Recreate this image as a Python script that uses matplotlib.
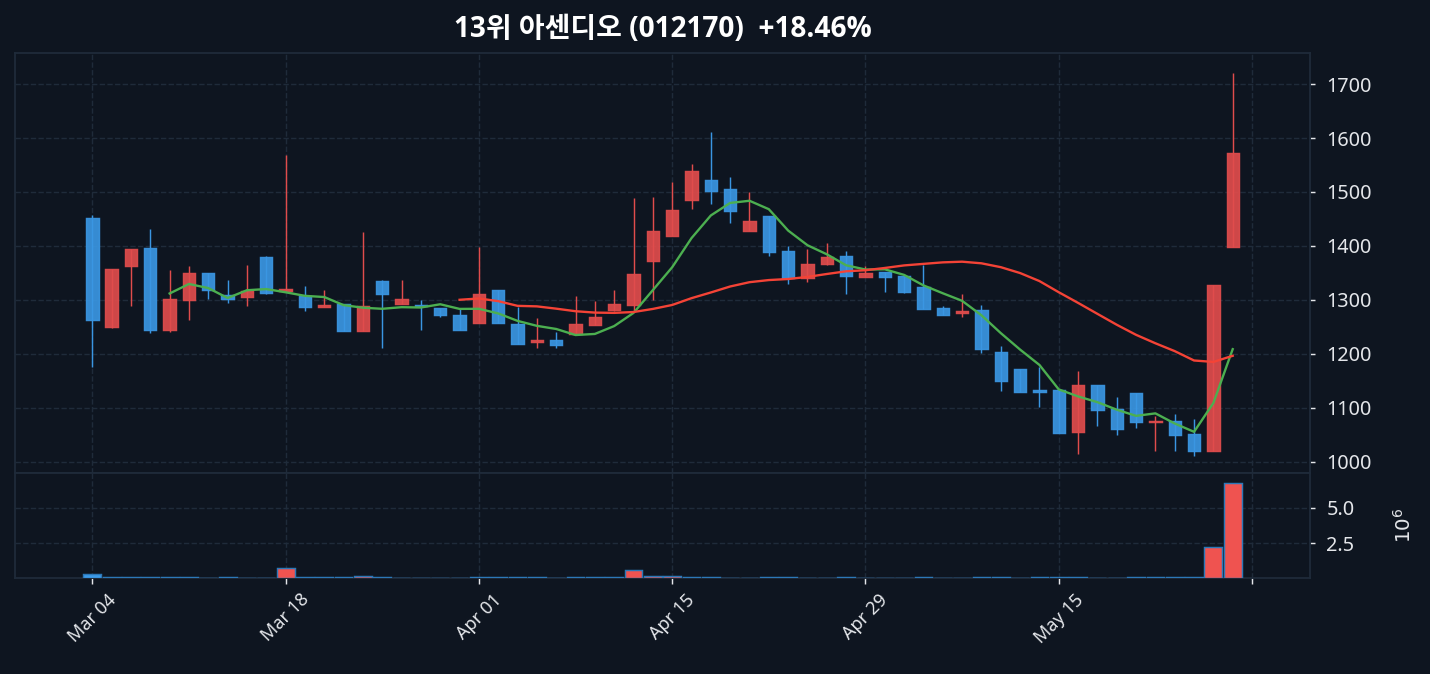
import numpy as np
import pandas as pd
import matplotlib
matplotlib.use("Agg")
import matplotlib.pyplot as plt
from matplotlib.patches import Rectangle
from matplotlib.ticker import MultipleLocator, FuncFormatter, FixedLocator

plt.rcParams['font.family'] = ['Noto Sans', 'Noto Sans CJK KR', 'DejaVu Sans']

title = "13위 아센디오 (012170)  +18.46%"

# trading days (KRX closed May 5-6)
holidays = ["2025-05-05", "2025-05-06"]
dates = pd.bdate_range("2025-03-04", "2025-05-28")
dates = dates[~dates.isin(pd.to_datetime(holidays))]

opens = [1452, 1250, 1362, 1396, 1245, 1299, 1350, 1309, 1305, 1380,
         1316, 1307, 1287, 1292, 1242, 1335, 1293, 1290, 1284, 1271,
         1258, 1318, 1255, 1221, 1226, 1237, 1253, 1281, 1291, 1372,
         1418, 1485, 1523, 1505, 1428, 1456, 1391, 1340, 1367, 1381,
         1343, 1351, 1345, 1324, 1284, 1276, 1281, 1203, 1171, 1132,
         1132, 1055, 1143, 1098, 1127, 1074, 1076, 1052, 1020, 1398]
highs = [1458, 1358, 1395, 1432, 1356, 1363, 1350, 1337, 1365, 1381,
         1568, 1326, 1319, 1292, 1425, 1336, 1337, 1300, 1284, 1283,
         1397, 1318, 1287, 1266, 1240, 1307, 1298, 1319, 1488, 1490,
         1518, 1552, 1611, 1527, 1500, 1456, 1399, 1395, 1405, 1390,
         1363, 1352, 1345, 1364, 1289, 1311, 1291, 1214, 1171, 1176,
         1132, 1169, 1143, 1120, 1127, 1085, 1089, 1080, 1328, 1720]
lows = [1175, 1247, 1289, 1239, 1240, 1263, 1302, 1294, 1288, 1311,
        1315, 1280, 1286, 1242, 1242, 1211, 1293, 1245, 1269, 1245,
        1258, 1258, 1219, 1210, 1211, 1237, 1253, 1279, 1280, 1300,
        1418, 1469, 1478, 1443, 1428, 1381, 1330, 1333, 1364, 1310,
        1342, 1314, 1312, 1283, 1271, 1269, 1202, 1131, 1130, 1102,
        1053, 1015, 1067, 1050, 1062, 1019, 1019, 1011, 1019, 1398]
closes = [1262, 1357, 1394, 1245, 1301, 1350, 1319, 1302, 1317, 1312,
          1320, 1286, 1291, 1242, 1288, 1310, 1301, 1288, 1272, 1245,
          1311, 1258, 1219, 1226, 1216, 1255, 1268, 1292, 1348, 1427,
          1467, 1538, 1502, 1464, 1447, 1389, 1340, 1366, 1380, 1345,
          1350, 1342, 1314, 1283, 1272, 1280, 1208, 1149, 1130, 1130,
          1053, 1143, 1096, 1060, 1073, 1076, 1049, 1019, 1327, 1572]
volumes = [0.26, 0.06, 0.05, 0.06, 0.05, 0.06, 0.02, 0.05, 0.02, 0.02,
           0.69, 0.06, 0.05, 0.05, 0.17, 0.06, 0.02, 0.02, 0.03, 0.02,
           0.05, 0.06, 0.05, 0.05, 0.02, 0.05, 0.05, 0.06, 0.55, 0.13,
           0.13, 0.09, 0.08, 0.02, 0.03, 0.06, 0.05, 0.02, 0.02, 0.05,
           0.02, 0.02, 0.03, 0.05, 0.02, 0.02, 0.05, 0.06, 0.03, 0.05,
           0.09, 0.09, 0.03, 0.02, 0.05, 0.05, 0.05, 0.08, 2.24, 6.81]

df = pd.DataFrame({"Open": opens, "High": highs, "Low": lows,
                   "Close": closes, "Volume": np.array(volumes) * 1e6},
                  index=dates)
df["MA5"] = df["Close"].rolling(5).mean()
df["MA20"] = df["Close"].rolling(20).mean()

bg = "#0e1520"
grid_c = "#1f2b3a"
up_c = "#e04c4c"
down_c = "#3a96e2"
txt = "#e4e6ea"

fig = plt.figure(figsize=(11, 5.185), dpi=130, facecolor=bg)
ax = fig.add_axes([0.0105, 0.2982, 0.9056, 0.6232], facecolor=bg)
axv = fig.add_axes([0.0105, 0.1424, 0.9056, 0.1558], facecolor=bg, sharex=ax)

x = np.arange(len(df))
w = 0.64
for i in x:
    o, h, l, c = df["Open"].iloc[i], df["High"].iloc[i], df["Low"].iloc[i], df["Close"].iloc[i]
    col = up_c if c >= o else down_c
    ax.vlines(i, l, h, color=col, lw=0.8, zorder=2)
    bot = min(o, c)
    hgt = max(abs(c - o), 2)
    ax.add_patch(Rectangle((i - w / 2, bot), w, hgt, facecolor=col, alpha=0.92,
                           edgecolor=col, lw=0.8, zorder=3))

ax.plot(x, df["MA5"], color="#4caf50", lw=1.3, zorder=4)
ax.plot(x, df["MA20"], color="#f44336", lw=1.3, zorder=4)

rng = df["High"].max() - df["Low"].min()
ax.set_ylim(df["Low"].min() - 0.045 * rng, df["High"].max() + 0.053 * rng)
ax.set_xlim(-4, 63)

vcols = ["#ef5350" if c >= o else "#3d9be9" for o, c in zip(opens, closes)]
axv.bar(x, df["Volume"], width=0.92, color=vcols, edgecolor="#2c78b8", lw=0.8, zorder=3)
axv.set_ylim(0, df["Volume"].max() * 1.1)
axv.yaxis.set_major_locator(FixedLocator([2.5e6, 5.0e6]))
axv.yaxis.set_major_formatter(FuncFormatter(lambda v, p: f"{v / 1e6:.1f}"))
axv.yaxis.set_label_position("right")
axv.set_ylabel("$10^{6}$", color=txt, fontsize=11, labelpad=22)

ticks = list(range(0, 61, 10))
labels = [dates[t].strftime("%b %d") if t < len(dates) else "" for t in ticks]
axv.xaxis.set_major_locator(FixedLocator(ticks))
axv.set_xticklabels(labels, rotation=45, ha="center")

for a in (ax, axv):
    a.yaxis.tick_right()
    a.grid(True, color=grid_c, ls="--", lw=0.8)
    a.set_axisbelow(True)
    for s in a.spines.values():
        s.set_color(grid_c)
        s.set_linewidth(1.0)
    a.tick_params(axis="y", colors=txt, labelsize=11, length=3, width=0.8, pad=6)
    a.tick_params(axis="x", colors=txt, labelsize=10, length=3.5, width=0.8)

ax.tick_params(axis="x", labelbottom=False, length=0)
ax.yaxis.set_major_locator(MultipleLocator(100))

ax.set_title(title, color="white", fontsize=15.5, fontweight="bold", pad=9,
             family=["Open Sans", "Noto Sans CJK KR", "DejaVu Sans"])

fig.savefig("out.png", dpi=130, facecolor=bg)
